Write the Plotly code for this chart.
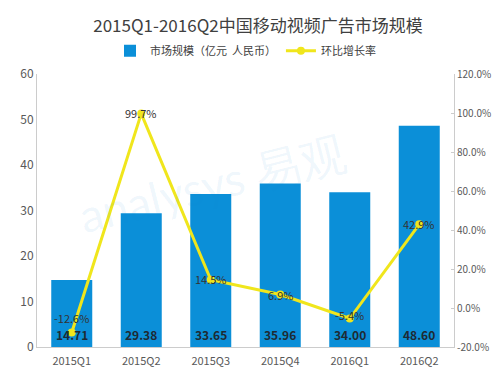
import plotly.graph_objects as go

categories = ["2015Q1", "2015Q2", "2015Q3", "2015Q4", "2016Q1", "2016Q2"]
market_size = [14.71, 29.38, 33.65, 35.96, 34.00, 48.60]
growth_rate = [-12.6, 99.7, 14.5, 6.9, -5.4, 42.9]
growth_labels = ["-12.6%", "99.7%", "14.5%", "6.9%", "-5.4%", "42.9%"]
left_ticks = [0, 10, 20, 30, 40, 50, 60]
right_ticks = [-20, 0, 20, 40, 60, 80, 100, 120]
right_tick_labels = ["-20.0%", "0.0%", "20.0%", "40.0%", "60.0%", "80.0%", "100.0%", "120.0%"]

FONT = "Noto Sans CJK SC"
BLUE = "#0b8fd8"
YELLOW = "#f0e61c"

fig = go.Figure()
fig.add_trace(go.Bar(
    x=categories, y=market_size, name="市场规模（亿元  人民币）",
    marker=dict(color=BLUE, line=dict(width=0)),
))
fig.add_trace(go.Scatter(
    x=categories, y=growth_rate, name="环比增长率", yaxis="y2",
    mode="lines+markers",
    line=dict(color=YELLOW, width=3),
    marker=dict(color=YELLOW, size=8),
))

# growth rate labels (first one sits above its point)
label_shift = [15, 1, 1, 0, 4, 0]
for cat, g, lab, s in zip(categories, growth_rate, growth_labels, label_shift):
    fig.add_annotation(
        x=cat, y=g, xref="x", yref="y2", yanchor="middle", yshift=s,
        text=lab, showarrow=False,
        font=dict(family=FONT, size=11, color="#333333"),
    )

# bar value labels near the base of each bar
for cat, v in zip(categories, market_size):
    fig.add_annotation(
        x=cat, y=0, xref="x", yref="y", yanchor="middle", yshift=13,
        text=f"<b>{v:.2f}</b>", showarrow=False,
        font=dict(family=FONT, size=12, color="#1e2a33"),
    )

fig.add_annotation(
    text="analysys 易观", x=0.42, y=0.6, xref="paper", yref="paper",
    showarrow=False, textangle=-14,
    font=dict(family="Lato", size=46, color="rgba(20,140,210,0.07)"),
)

fig.update_layout(
    width=500, height=372,
    margin=dict(l=29, r=54, t=66, b=31),
    paper_bgcolor="white", plot_bgcolor="white",
    title=dict(text="2015Q1-2016Q2中国移动视频广告市场规模", x=0.5, xanchor="center",
               y=0.952, yanchor="middle",
               font=dict(family=FONT, size=17, color="#404040")),
    legend=dict(orientation="h", x=0.5, xanchor="center", y=1.085, yanchor="middle",
                font=dict(family=FONT, size=11, color="#404040"),
                itemwidth=30, traceorder="normal"),
    bargap=0.41,
    showlegend=True,
    xaxis=dict(showline=True, linecolor="#cccccc", linewidth=1, ticks="",
               tickfont=dict(family=FONT, size=11, color="#595959"),
               ticklabelstandoff=4, showgrid=False),
    yaxis=dict(range=[0, 60], tickvals=left_ticks, showline=True, linecolor="#cccccc",
               linewidth=1, showgrid=False, zeroline=False, ticks="",
               tickfont=dict(family=FONT, size=12, color="#595959")),
    yaxis2=dict(overlaying="y", side="right", range=[-20, 120], tickvals=right_ticks,
                ticktext=right_tick_labels, showline=True, linecolor="#cccccc",
                linewidth=1, showgrid=False, zeroline=False, ticks="inside",
                ticklen=3, tickcolor="#cccccc",
                tickfont=dict(family=FONT, size=10, color="#595959")),
)

fig.write_html("out.html")
